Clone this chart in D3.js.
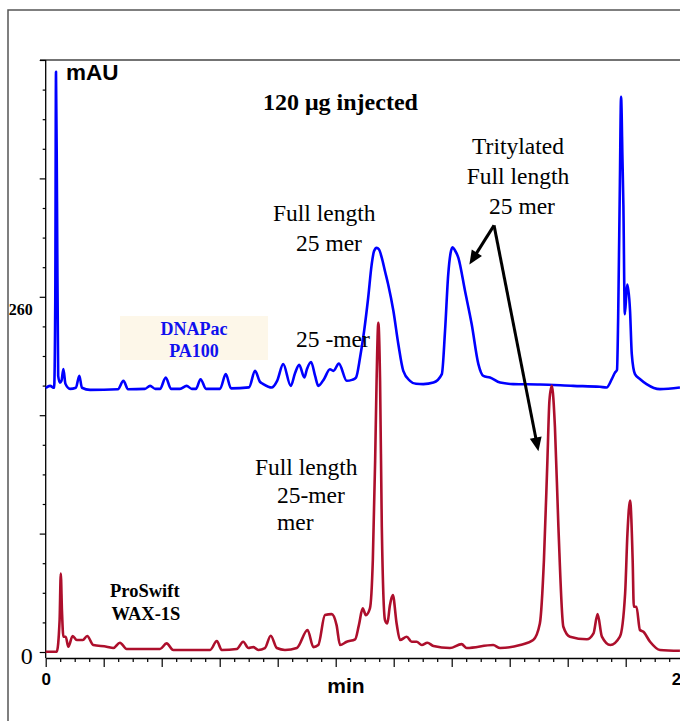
<!DOCTYPE html>
<html>
<head>
<meta charset="utf-8">
<script src="https://cdn.jsdelivr.net/npm/d3@7"></script>
<style>
  body { margin: 0; background: #fff; }
</style>
</head>
<body>
<div id="chart"></div>
<script>
// 色谱数据：[时间 min, 信号 mAU]
const dnapacTrace = [
  [0, 193.2], [0.15, 194.8], [0.29, 193.4], [0.33, 256.9], [0.355, 424.7], [0.39, 329.8],
  [0.43, 202.1], [0.49, 197.2], [0.545, 198.5], [0.61, 207.2], [0.68, 196.3], [0.84, 192.6],
  [1.04, 193.4], [1.16, 202.1], [1.25, 193.4], [1.53, 191.9], [2.49, 192.3], [2.68, 198.5],
  [2.84, 192.3], [3.42, 192.6], [3.6, 194.8], [3.78, 192.6], [3.94, 192.6], [4.14, 200.9],
  [4.32, 192.6], [4.63, 192.6], [4.86, 194.8], [5.04, 192.6], [5.18, 192.6], [5.34, 199.7],
  [5.53, 192.6], [6.01, 192.6], [6.21, 203.4], [6.39, 193.0], [7.01, 193.7], [7.22, 205.8],
  [7.39, 197.7], [7.49, 196.3], [7.79, 193.6], [7.98, 198.5], [8.19, 210.7], [8.45, 194.8],
  [8.6, 204.3], [8.74, 210.2], [8.92, 200.9], [9.01, 207.2], [9.15, 212.3], [9.29, 202.1],
  [9.40, 194.8], [9.6, 199.9], [9.80, 207.0], [9.92, 205.8], [10.11, 211.1], [10.38, 198.5],
  [10.56, 199.2], [10.70, 200.9], [10.84, 215.5], [10.98, 235.0], [11.12, 259.3], [11.24, 283.6],
  [11.32, 293.3], [11.41, 295.8], [11.49, 294.8], [11.59, 288.5], [11.70, 278.7], [11.81, 269.0],
  [11.99, 249.6], [12.16, 225.3], [12.33, 205.8], [12.56, 198.5], [12.77, 196.3], [13.02, 196.1],
  [13.37, 197.2], [13.66, 203.4], [13.77, 235.0], [13.88, 276.3], [13.96, 291.9], [14.03, 296.3],
  [14.11, 294.1], [14.23, 288.5], [14.46, 264.2], [14.69, 239.9], [14.92, 210.7], [15.09, 202.1],
  [15.32, 200.9], [15.67, 197.2], [16.12, 196.1], [17.04, 195.8], [18.19, 194.8], [19.11, 194.1],
  [19.34, 193.6], [19.52, 199.7], [19.63, 204.5], [19.70, 206.5], [19.74, 244.7], [19.80, 344.4],
  [19.84, 406.4], [19.89, 359.0], [19.92, 327.4], [19.97, 247.2], [20.03, 264.2], [20.06, 269.0],
  [20.15, 249.6], [20.21, 218.0], [20.32, 203.4], [20.49, 199.9], [20.72, 196.1], [21.18, 192.4],
  [21.87, 193.6]
];

const proswiftTrace = [
  [0, 0.2], [0.38, 0.2], [0.48, 23.4], [0.52, 57.4], [0.56, 30.6], [0.61, 11.2], [0.69, 11.2],
  [0.78, 3.9], [0.93, 11.7], [1.07, 8.8], [1.28, 8.8], [1.43, 11.7], [1.64, 5.1], [2.10, 3.9],
  [2.33, 2.9], [2.56, 6.8], [2.79, 2.2], [3.94, 2.2], [4.17, 6.3], [4.40, 1.5], [5.67, 1.5],
  [5.90, 8.0], [6.07, 1.5], [6.59, 2.2], [6.81, 7.5], [6.99, 2.9], [7.16, 3.6], [7.33, 1.5],
  [7.56, 2.9], [7.76, 11.9], [7.97, 2.9], [8.25, 1.5], [8.66, 2.9], [9.03, 16.1], [9.23, 3.6],
  [9.40, 5.1], [9.63, 27.0], [9.86, 27.7], [10.03, 19.7], [10.15, 5.1], [10.38, 7.5], [10.67, 9.3],
  [10.80, 19.7], [10.93, 31.9], [11.04, 27.0], [11.18, 31.9], [11.28, 67.1], [11.36, 140.1],
  [11.41, 198.5], [11.47, 241.0], [11.53, 198.5], [11.59, 91.4], [11.70, 23.4], [11.78, 20.9],
  [11.87, 34.3], [11.97, 41.6], [12.10, 20.9], [12.22, 8.8], [12.45, 11.2], [12.62, 7.5],
  [12.79, 7.5], [12.97, 5.1], [13.16, 6.8], [13.37, 4.4], [13.94, 2.9], [14.34, 5.8], [14.52, 2.9],
  [15.43, 5.1], [15.67, 2.9], [16.36, 5.1], [16.81, 8.8], [17.04, 20.9], [17.18, 67.1],
  [17.30, 140.1], [17.37, 183.9], [17.45, 194.8], [17.49, 189.7], [17.56, 164.4], [17.68, 91.4],
  [17.85, 18.5], [18.08, 11.2], [18.66, 9.3], [18.89, 13.6], [19.03, 27.7], [19.18, 11.2],
  [19.47, 5.1], [19.80, 11.2], [19.98, 42.8], [20.06, 86.6], [20.15, 110.9], [20.24, 67.1],
  [20.28, 33.1], [20.37, 33.1], [20.49, 16.1], [20.61, 14.8], [20.84, 7.5], [21.18, 1.5],
  [21.87, 0.9]
];

// 坐标轴刻度
const yTickValues = d3.range(0, 21).map(i => i * 260 / 12);
const yTickLabels = { 0: "0", 12: "260" };
const xTickValues = d3.range(0, 44.5).map(i => i * 0.5);
const xTickLabels = { 0: "0", 22: "22" };

// 箭头：[起点, 终点]（时间, mAU）
const arrowApex = [15.46, 312.3];
const arrowTips = [[14.61, 283.6], [16.99, 146.9]];

const width = 680, height = 721;
const serif = "'Liberation Serif', 'Times New Roman', serif";
const sans = "'Liberation Sans', Arial, sans-serif";

const svg = d3.select("#chart").append("svg")
  .attr("width", width)
  .attr("height", height);

svg.append("rect").attr("width", width).attr("height", height).attr("fill", "white");

const x = d3.scaleLinear().domain([0, 22]).range([45.7, 683.7]);
const y = d3.scaleLinear().domain([0, 433.33]).range([652, 60]);

// 外框
svg.append("path")
  .attr("d", `M8,${height} V10 H${width}`)
  .attr("fill", "none")
  .attr("stroke", "#555")
  .attr("stroke-width", 1.5);

// 绘图区上边框
svg.append("line")
  .attr("x1", 40).attr("x2", width)
  .attr("y1", 60).attr("y2", 60)
  .attr("stroke", "#444")
  .attr("stroke-width", 1.5);

// y 轴
const yAxis = svg.append("g")
  .attr("transform", "translate(45.7,0)")
  .call(d3.axisLeft(y).tickValues(yTickValues).tickSizeInner(3).tickSizeOuter(0)
    .tickFormat((d, i) => yTickLabels[i] || ""));
yAxis.select(".domain").remove();
yAxis.selectAll(".tick line")
  .attr("x2", (d, i) => i % 4 === 0 ? -6 : -3)
  .attr("stroke-width", 1.2);
yAxis.selectAll(".tick text")
  .attr("x", -13)
  .attr("dy", (d, i) => i === 0 ? 11 : 18)
  .attr("fill", "black")
  .style("font-family", serif)
  .style("font-size", (d, i) => i === 0 ? "24px" : "16px")
  .style("font-weight", (d, i) => i === 0 ? "normal" : "bold");
yAxis.append("line")
  .attr("y1", 60).attr("y2", 658)
  .attr("stroke", "black")
  .attr("stroke-width", 1.3);

// x 轴
const xAxis = svg.append("g")
  .attr("transform", "translate(0,658)")
  .call(d3.axisBottom(x).tickValues(xTickValues).tickSizeInner(4).tickSizeOuter(0)
    .tickFormat(d => xTickLabels[d] || ""));
xAxis.select(".domain").attr("stroke-width", 1.3);
xAxis.selectAll(".tick line")
  .attr("y2", d => d % 2 === 0 ? 9 : 4)
  .attr("stroke-width", 1.2);
xAxis.selectAll(".tick text")
  .attr("y", 27).attr("dy", 0)
  .attr("dx", d => d === 22 ? -3 : 0)
  .attr("fill", "black")
  .style("font-family", sans)
  .style("font-size", "17px")
  .style("font-weight", "bold");

svg.append("text")
  .attr("x", 346).attr("y", 693)
  .attr("text-anchor", "middle")
  .style("font-family", sans).style("font-size", "21px").style("font-weight", "bold")
  .text("min");

svg.append("text")
  .attr("x", 66).attr("y", 80)
  .style("font-family", sans).style("font-size", "22.5px").style("font-weight", "bold")
  .text("mAU");

// 色谱柱标签框
svg.append("rect")
  .attr("x", 120).attr("y", 316)
  .attr("width", 148).attr("height", 44)
  .attr("fill", "#fdf7e9");

// 曲线
const line = d3.line()
  .x(d => x(d[0]))
  .y(d => y(d[1]))
  .curve(d3.curveMonotoneX);

svg.append("path")
  .datum(dnapacTrace)
  .attr("d", line)
  .attr("fill", "none")
  .attr("stroke", "#0000ff")
  .attr("stroke-width", 2.6)
  .attr("stroke-linejoin", "round");

svg.append("path")
  .datum(proswiftTrace)
  .attr("d", line)
  .attr("fill", "none")
  .attr("stroke", "#ad0f2c")
  .attr("stroke-width", 2.6)
  .attr("stroke-linejoin", "round");

// 文字标注
const labels = [
  { t: "120 μg injected", x: 263, y: 110, size: 24, bold: true },
  { t: "Full length", x: 273, y: 220.5, size: 23.5 },
  { t: "25 mer", x: 296, y: 250.5, size: 23.5 },
  { t: "Tritylated", x: 518, y: 154, size: 23.5, anchor: "middle" },
  { t: "Full length", x: 518, y: 184, size: 23.5, anchor: "middle" },
  { t: "25 mer", x: 522, y: 213.5, size: 23.5, anchor: "middle" },
  { t: "25 -mer", x: 296, y: 347, size: 23.5 },
  { t: "Full length", x: 255, y: 475, size: 23.5 },
  { t: "25-mer", x: 277, y: 503, size: 23.5 },
  { t: "mer", x: 277, y: 530, size: 23.5 },
  { t: "ProSwift", x: 110, y: 596.5, size: 18.5, bold: true },
  { t: "WAX-1S", x: 111.5, y: 619.5, size: 18.5, bold: true },
  { t: "DNAPac", x: 194, y: 335, size: 18, bold: true, fill: "#1010ee", anchor: "middle" },
  { t: "PA100", x: 194, y: 356.5, size: 18, bold: true, fill: "#1010ee", anchor: "middle" }
];

svg.append("g")
  .selectAll("text")
  .data(labels)
  .enter()
  .append("text")
  .attr("x", d => d.x)
  .attr("y", d => d.y)
  .attr("text-anchor", d => d.anchor || "start")
  .attr("fill", d => d.fill || "black")
  .style("font-family", serif)
  .style("font-size", d => d.size + "px")
  .style("font-weight", d => d.bold ? "bold" : "normal")
  .text(d => d.t);

// 箭头
const headLen = 14, headHalf = 6;
const apex = [x(arrowApex[0]), y(arrowApex[1])];
arrowTips.forEach(tp => {
  const tip = [x(tp[0]), y(tp[1])];
  const dx = tip[0] - apex[0], dy = tip[1] - apex[1];
  const len = Math.hypot(dx, dy);
  const ux = dx / len, uy = dy / len;
  const base = [tip[0] - ux * headLen, tip[1] - uy * headLen];
  svg.append("line")
    .attr("x1", apex[0]).attr("y1", apex[1])
    .attr("x2", base[0] + ux * 2).attr("y2", base[1] + uy * 2)
    .attr("stroke", "black")
    .attr("stroke-width", 3);
  svg.append("polygon")
    .attr("points", [
      tip,
      [base[0] - uy * headHalf, base[1] + ux * headHalf],
      [base[0] + uy * headHalf, base[1] - ux * headHalf]
    ].map(p => p.join(",")).join(" "))
    .attr("fill", "black");
});
</script>
</body>
</html>
